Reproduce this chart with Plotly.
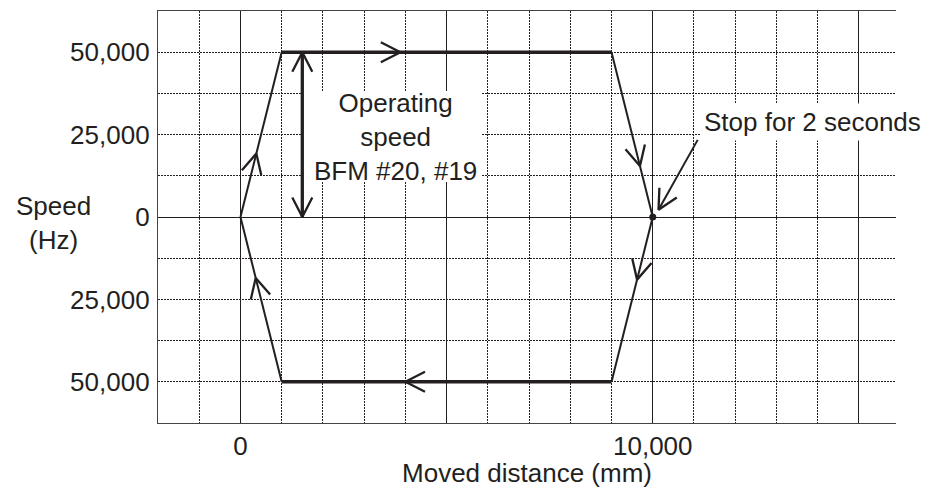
import math
import plotly.graph_objects as go

# ---------------- data ----------------
distance_mm = [0, 1000, 9000, 10000, 9000, 1000, 0]
speed_hz = [0, 50000, 50000, 0, -50000, -50000, 0]

# direction arrows: segment index and fraction of the way along it (tip)
arrow_segment = [0, 1, 2, 3, 4, 5]
arrow_fraction = [0.385, 0.36, 0.69, 0.38, 0.625, 0.63]

# operating speed double arrow
op_speed_x = 1500
op_speed_range = [0, 50000]
op_speed_lines = ["Operating", "speed", "BFM #20, #19"]

# stop point and its pointer
stop_x, stop_y = 10000, 0
stop_label = "Stop for 2 seconds"
stop_arrow_tail = (11090, 23400)
stop_arrow_tip = (10140, 2200)

x_tickvals = [0, 5000, 10000, 15000]
x_ticktext = ["0", "", "10,000", ""]
y_tickvals = [-50000, -25000, 0, 25000, 50000]
y_ticktext = ["50,000", "25,000", "0", "25,000", "50,000"]

x_title = "Moved distance (mm)"
y_title_lines = ["Speed", "(Hz)"]

# ---------------- layout geometry ----------------
W, H = 926, 488
M = dict(l=158, r=30, t=11, b=65)
X_RANGE = [-2000, 15900]
Y_RANGE = [-62500, 62500]
PW = W - M["l"] - M["r"]
PH = H - M["t"] - M["b"]
SX = PW / (X_RANGE[1] - X_RANGE[0])
SY = PH / (Y_RANGE[1] - Y_RANGE[0])

INK = "#231f20"
FONT = "Liberation Sans, Arial, sans-serif"
FS = 26
DOT = "2px,1px"


def px_x(px):
    return X_RANGE[0] + (px - M["l"]) / SX


def px_y(py):
    return Y_RANGE[1] - (py - M["t"]) / SY


def paper_x(px):
    return (px - M["l"]) / PW


def paper_y(py):
    return 1 - (py - M["t"]) / PH


def vhead(tx, ty, dx, dy, length=22, half_angle=27):
    ux, uy = dx * SX, dy * SY
    n = math.hypot(ux, uy)
    bx, by = -ux / n, -uy / n
    ends = []
    for s in (1, -1):
        a = math.radians(half_angle) * s
        rx = bx * math.cos(a) - by * math.sin(a)
        ry = bx * math.sin(a) + by * math.cos(a)
        ends.append((tx + rx * length / SX, ty + ry * length / SY))
    xs = [ends[0][0], tx, ends[1][0], None]
    ys = [ends[0][1], ty, ends[1][1], None]
    return xs, ys


fig = go.Figure()

# ramps (thin) and constant-speed runs (thick)
thin_x, thin_y, thick_x, thick_y = [], [], [], []
for i in range(len(distance_mm) - 1):
    seg_x = [distance_mm[i], distance_mm[i + 1], None]
    seg_y = [speed_hz[i], speed_hz[i + 1], None]
    if speed_hz[i] == speed_hz[i + 1]:
        thick_x += seg_x
        thick_y += seg_y
    else:
        thin_x += seg_x
        thin_y += seg_y

fig.add_trace(go.Scatter(x=thin_x, y=thin_y, mode="lines",
                         line=dict(color=INK, width=2), hoverinfo="skip"))
fig.add_trace(go.Scatter(x=thick_x, y=thick_y, mode="lines",
                         line=dict(color=INK, width=3.6), hoverinfo="skip"))

# direction arrowheads
ah_x, ah_y = [], []
for seg, f in zip(arrow_segment, arrow_fraction):
    x0, y0 = distance_mm[seg], speed_hz[seg]
    x1, y1 = distance_mm[seg + 1], speed_hz[seg + 1]
    tx, ty = x0 + f * (x1 - x0), y0 + f * (y1 - y0)
    hx, hy = vhead(tx, ty, x1 - x0, y1 - y0)
    ah_x += hx
    ah_y += hy

# operating speed double arrow
fig.add_trace(go.Scatter(x=[op_speed_x, op_speed_x], y=op_speed_range, mode="lines",
                         line=dict(color=INK, width=3.3), hoverinfo="skip"))
for a, b in ((op_speed_range[0], op_speed_range[1]), (op_speed_range[1], op_speed_range[0])):
    hx, hy = vhead(op_speed_x, b, 0, b - a)
    ah_x += hx
    ah_y += hy

# stop pointer
fig.add_trace(go.Scatter(x=[stop_arrow_tail[0], stop_arrow_tip[0]],
                         y=[stop_arrow_tail[1], stop_arrow_tip[1]], mode="lines",
                         line=dict(color=INK, width=2), hoverinfo="skip"))
hx, hy = vhead(stop_arrow_tip[0], stop_arrow_tip[1],
               stop_arrow_tip[0] - stop_arrow_tail[0], stop_arrow_tip[1] - stop_arrow_tail[1])
ah_x += hx
ah_y += hy

fig.add_trace(go.Scatter(x=ah_x, y=ah_y, mode="lines",
                         line=dict(color=INK, width=2.3), hoverinfo="skip"))

fig.add_trace(go.Scatter(x=[stop_x], y=[stop_y], mode="markers",
                         marker=dict(color=INK, size=7), hoverinfo="skip"))

# white box behind operating speed text
fig.add_shape(type="rect", layer="between", x0=px_x(303), x1=px_x(481),
              y0=px_y(182), y1=px_y(91), fillcolor="white", line=dict(width=0))

annotations = [
    dict(x=px_x(395), y=px_y(136.7), xref="x", yref="y", text="<br>".join(op_speed_lines),
         showarrow=False, xanchor="center", yanchor="middle", align="center",
         font=dict(family=FONT, size=FS, color=INK)),
    dict(x=px_x(812), y=px_y(122), xref="x", yref="y", text=stop_label,
         showarrow=False, xanchor="center", yanchor="middle",
         bgcolor="white", borderpad=3,
         font=dict(family=FONT, size=FS, color=INK)),
    dict(x=paper_x(53), y=paper_y(222.5), xref="paper", yref="paper",
         text="<br>".join(y_title_lines), showarrow=False, xanchor="center",
         yanchor="middle", align="center",
         font=dict(family=FONT, size=FS, color=INK)),
]

fig.update_layout(
    template="none",
    width=W, height=H, margin=M, showlegend=False,
    paper_bgcolor="white", plot_bgcolor="white",
    font=dict(family=FONT, size=FS, color=INK),
    annotations=annotations,
    xaxis=dict(range=X_RANGE, tickvals=x_tickvals, ticktext=x_ticktext, automargin=False,
               showgrid=True, gridcolor=INK, gridwidth=1.2,
               zeroline=True, zerolinecolor=INK, zerolinewidth=1.2,
               showline=True, linecolor="#444", linewidth=1.3, mirror=True,
               ticks="", tickfont=dict(size=FS, color=INK),
               title=dict(text=x_title, standoff=11, font=dict(size=FS, color=INK)),
               minor=dict(dtick=1000, tick0=0, showgrid=True, gridcolor=INK,
                          gridwidth=1, griddash=DOT, ticks="")),
    yaxis=dict(range=Y_RANGE, tickvals=y_tickvals, ticktext=y_ticktext, automargin=False,
               showgrid=True, gridcolor=INK, gridwidth=1, griddash=DOT,
               zeroline=True, zerolinecolor=INK, zerolinewidth=1.2,
               showline=True, linecolor="#444", linewidth=1.3, mirror=False,
               ticks="", tickfont=dict(size=FS, color=INK), ticklabelstandoff=2,
               minor=dict(dtick=12500, tick0=0, showgrid=True, gridcolor=INK,
                          gridwidth=1, griddash=DOT, ticks="")),
)

fig.write_html("out.html", config={"displayModeBar": False},
               post_script="document.body.style.margin='0';")
